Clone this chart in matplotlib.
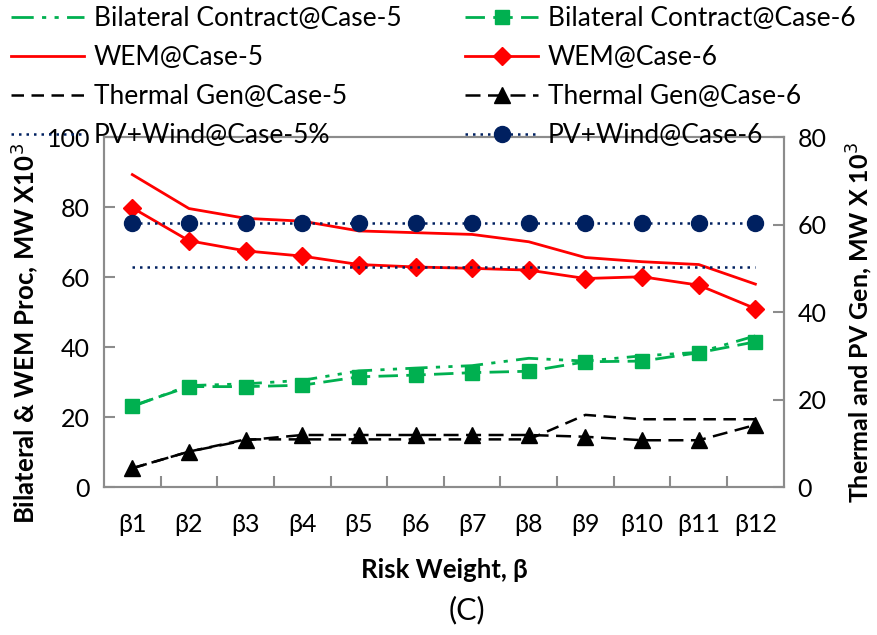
import matplotlib
matplotlib.use('Agg')
import matplotlib.pyplot as plt
import numpy as np

plt.rcParams['font.family'] = ['Lato', 'DejaVu Sans']

categories = ['β1', 'β2', 'β3', 'β4', 'β5', 'β6', 'β7', 'β8', 'β9', 'β10', 'β11', 'β12']

# left axis (Bilateral & WEM, MW x10^3)
bc_case5 = [23.0, 29.0, 29.5, 30.5, 33.2, 34.0, 34.7, 36.8, 36.0, 37.5, 38.5, 43.2]
bc_case6 = [23.2, 28.7, 28.7, 29.1, 31.5, 32.0, 32.7, 33.1, 35.8, 36.0, 38.4, 41.5]
wem_case5 = [89.3, 79.6, 76.8, 76.0, 73.2, 72.7, 72.2, 70.1, 65.6, 64.4, 63.6, 58.0]
wem_case6 = [79.8, 70.4, 67.5, 66.0, 63.6, 62.9, 62.5, 62.0, 59.6, 60.1, 57.7, 51.0]

# right axis (Thermal & PV, MW x10^3)
tg_case5 = [4.3, 8.1, 10.9, 10.9, 10.9, 10.9, 10.9, 10.9, 16.5, 15.5, 15.5, 15.5]
tg_case6 = [4.3, 8.1, 10.7, 11.9, 11.9, 11.9, 11.9, 11.9, 11.5, 10.7, 10.7, 14.2]
pv_case5 = [50.3] * 12
pv_case6 = [60.3] * 12

green, red, navy = '#00B050', '#FF0000', '#002060'
x = np.arange(len(categories))

fig = plt.figure(figsize=(8.77, 6.35), dpi=100)
ax = fig.add_axes([0.1186, 0.233, 0.775, 0.551])
ax2 = ax.twinx()

h1, = ax.plot(x, bc_case5, color=green, lw=2, dashes=(8, 3, 1.5, 3, 1.5, 3), label='Bilateral Contract@Case-5')
h5, = ax.plot(x, bc_case6, color=green, lw=2, dashes=(7, 3), marker='s', ms=10.5, label='Bilateral Contract@Case-6')
h2, = ax.plot(x, wem_case5, color=red, lw=2, label='WEM@Case-5')
h6, = ax.plot(x, wem_case6, color=red, lw=2, marker='D', ms=9, label='WEM@Case-6')
h3, = ax2.plot(x, tg_case5, color='black', lw=1.8, dashes=(5, 3), label='Thermal Gen@Case-5')
h7, = ax2.plot(x, tg_case6, color='black', lw=1.8, dashes=(6, 3), marker='^', ms=11, label='Thermal Gen@Case-6')
h4, = ax2.plot(x, pv_case5, color=navy, lw=1.8, dashes=(1, 2), label='PV+Wind@Case-5%')
h8, = ax2.plot(x, pv_case6, color=navy, lw=1.8, dashes=(1, 2), marker='o', ms=11.5, label='PV+Wind@Case-6')

ax.set_xlim(-0.5, len(categories) - 0.5)
ax.set_ylim(0, 100)
ax2.set_ylim(0, 80)
ax.set_yticks(range(0, 101, 20))
ax2.set_yticks(range(0, 81, 20))
ax.set_xticks(x)
ax.set_xticklabels(categories)
ax.set_xticks(np.arange(0.5, len(categories) - 1, 1), minor=True)

gray = '#8C8C8C'
for a in (ax, ax2):
    for s in a.spines.values():
        s.set_color(gray)
        s.set_linewidth(1.5)
ax.tick_params(axis='x', which='major', length=0, labelsize=18, pad=19)
ax.tick_params(axis='x', which='minor', direction='in', length=8, color=gray, width=1.5)
ax.tick_params(axis='y', direction='in', length=8, color=gray, width=1.5, labelsize=18, pad=10)
ax2.tick_params(axis='y', direction='in', length=8, color=gray, width=1.5, labelsize=18, pad=10)

ax.set_ylabel('Bilateral & WEM Proc, MW X10$^3$', fontsize=18.5, fontweight='bold')
ax.yaxis.set_label_coords(-0.116, 0.44)
ax2.set_ylabel('Thermal and PV Gen, MW X 10$^3$', fontsize=18, fontweight='bold')
ax2.yaxis.set_label_coords(1.112, 0.469)
ax.set_xlabel('Risk Weight, β', fontsize=18.5, fontweight='bold')
ax.xaxis.set_label_coords(0.501, -0.237)
ax.xaxis.label.set_va('center')
ax.yaxis.label.set_va('center')
ax2.yaxis.label.set_va('center')
fig.text(0.532, 0.039, '(C)', fontsize=22, ha='center', va='center')

fig.legend(handles=[h1, h2, h3, h4, h5, h6, h7, h8], ncol=2, loc='upper left',
           bbox_to_anchor=(0.012, 0.99), frameon=False, fontsize=19,
           handlelength=2.8, columnspacing=2.4, labelspacing=0.53, handletextpad=0.35,
           borderpad=0.0, borderaxespad=0.0)

fig.savefig('out.png', dpi=100)
